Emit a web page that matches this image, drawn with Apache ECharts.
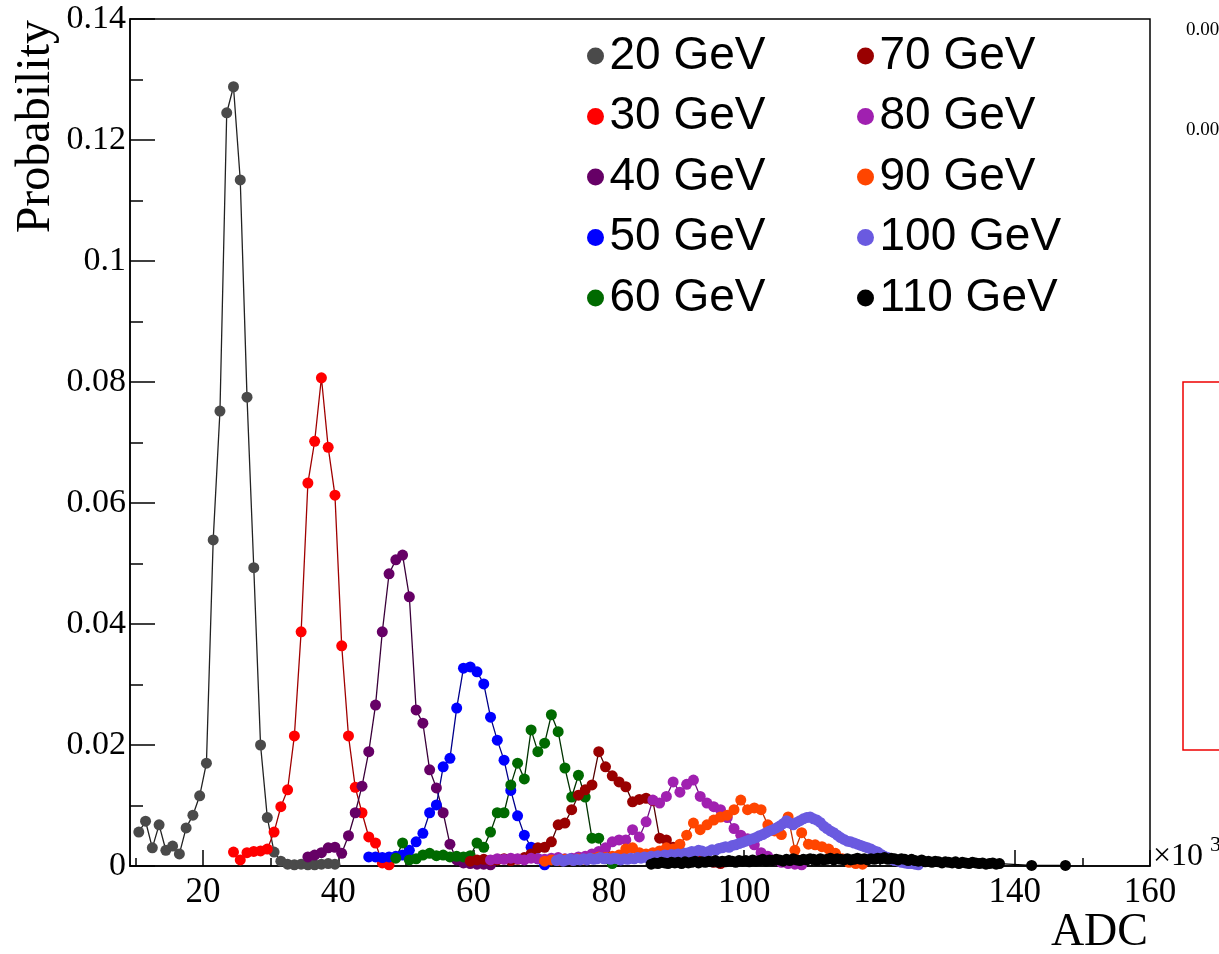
<!DOCTYPE html>
<html>
<head>
<meta charset="utf-8">
<script src="https://cdn.jsdelivr.net/npm/echarts@6/dist/echarts.min.js"></script>
<style>
html,body{margin:0;padding:0;background:#fff}
#chart{width:1219px;height:954px}
</style>
</head>
<body>
<div id="chart"></div>
<script>
// beam energies (legend order)
var energies = ['20 GeV','30 GeV','40 GeV','50 GeV','60 GeV','70 GeV','80 GeV','90 GeV','100 GeV','110 GeV'];

// histogram binning (ADC, x10^3): centre of first bin and bin width
var binStart = [10.5, 24.5, 35.5, 44.5, 48.5, 59.5, 62.5, 70.5, 72.25, 86.25];
var binWidth = [1, 1, 1, 1, 1, 1, 1, 1, 0.5, 0.5];

// probabilities
var p20 = [0.0056,0.0074,0.0030,0.0068,0.0026,0.0033,0.0020,0.0063,0.0084,0.0116,
  0.0170,0.0539,0.0752,0.1245,0.1288,0.1134,0.0775,0.0493,0.0200,0.0080,
  0.0023,0.0008,0.0003,0.0002,0.0003,0.0002,0.0002,0.0003,0.0004,0.0003];
var p30 = [0.0023,0.0010,0.0022,0.0024,0.0025,0.0028,0.0056,0.0098,0.0126,0.0215,
  0.0387,0.0633,0.0702,0.0807,0.0692,0.0613,0.0364,0.0215,0.0130,0.0088,
  0.0048,0.0038,0.0005,0.0002];
var p40 = [0.0015,0.0018,0.0022,0.0030,0.0031,0.0021,0.0050,0.0088,0.0132,0.0189,
  0.0266,0.0387,0.0483,0.0506,0.0514,0.0445,0.0258,0.0236,0.0159,0.0129,
  0.0088,0.0036,0.0010,0.0005,0.0004,0.0003,0.0003,0.0002];
var p50 = [0.0015,0.0015,0.0014,0.0015,0.0016,0.0018,0.0026,0.0040,0.0054,0.0088,
  0.0101,0.0164,0.0178,0.0261,0.0327,0.0329,0.0321,0.0301,0.0246,0.0208,
  0.0175,0.0125,0.0083,0.0051,0.0031,0.0012,0.0002];
var p60 = [0.0013,0.0038,0.0010,0.0012,0.0018,0.0021,0.0017,0.0018,0.0015,0.0016,
  0.0015,0.0017,0.0038,0.0031,0.0056,0.0088,0.0088,0.0134,0.0170,0.0144,
  0.0225,0.0189,0.0203,0.0250,0.0222,0.0162,0.0114,0.0150,0.0114,0.0046,
  0.0046,0.0012,0.0004];
var p70 = [0.0008,0.0010,0.0011,0.0009,0.0010,0.0012,0.0009,0.0011,0.0014,0.0020,
  0.0030,0.0031,0.0040,0.0068,0.0071,0.0093,0.0117,0.0126,0.0134,0.0189,
  0.0164,0.0149,0.0139,0.0131,0.0106,0.0110,0.0112,0.0108,0.0046,0.0043,
  0.0031,0.0025,0.0018,0.0015,0.0012,0.0009,0.0006,0.0004];
var p80 = [0.0010,0.0012,0.0011,0.0013,0.0012,0.0010,0.0013,0.0012,0.0011,0.0013,
  0.0014,0.0012,0.0013,0.0015,
  0.0016,0.0020,0.0024,0.0030,0.0040,0.0043,0.0043,0.0060,0.0048,0.0073,
  0.0109,0.0104,0.0115,0.0139,0.0122,0.0135,0.0142,0.0115,0.0104,0.0098,
  0.0093,0.0080,0.0062,0.0051,0.0045,0.0035,0.0022,0.0016,0.0010,0.0006,
  0.0004,0.0003,0.0002];
var p90 = [0.0008,0.0010,0.0009,0.0011,0.0010,0.0012,0.0011,0.0013,0.0015,0.0014,
  0.0016,0.0018,0.0028,0.0030,0.0022,
  0.0020,0.0022,0.0025,0.0030,0.0028,0.0036,0.0051,0.0071,0.0060,0.0068,
  0.0076,0.0081,0.0084,0.0093,0.0109,0.0093,0.0096,0.0093,0.0068,0.0058,
  0.0052,0.0081,0.0026,0.0055,0.0036,0.0035,0.0032,0.0028,0.0021,0.0012,
  0.0006,0.0004,0.0003];
var p100 = [0.0009,0.0011,0.0008,0.0010,0.0012,0.0009,0.0011,0.0010,0.0012,0.0010,
  0.0013,0.0011,0.0012,0.0014,0.0012,0.0013,
  0.0011,0.0013,0.0012,0.0010,0.0012,0.0011,0.0013,0.0012,0.0014,0.0013,
  0.0015,0.0013,0.0016,0.0015,0.0017,0.0016,0.0018,0.0017,0.0019,0.0018,
  0.0020,0.0019,0.0021,0.0022,0.0024,0.0023,0.0026,0.0025,0.0022,0.0024,
  0.0027,0.0026,0.0029,0.0030,0.0032,0.0031,0.0034,0.0035,0.0037,0.0039,
  0.0041,0.0043,0.0045,0.0047,0.0050,0.0052,0.0055,0.0058,0.0060,0.0063,
  0.0066,0.0070,0.0075,0.0071,0.0068,0.0072,0.0075,0.0078,0.0080,0.0081,
  0.0078,0.0076,0.0072,0.0066,0.0062,0.0058,0.0055,0.0051,0.0047,0.0044,
  0.0041,0.0040,0.0038,0.0036,0.0034,0.0032,0.0030,0.0028,0.0025,0.0023,
  0.0019,0.0016,0.0014,0.0011,0.0009,0.0008,0.0006,0.0005,0.0004,0.0004,
  0.0003,0.0002];
var p110 = [0.0003,0.0005,0.0004,0.0006,0.0005,0.0004,0.0006,0.0005,
  0.0006,0.0004,0.0007,0.0005,0.0006,0.0008,0.0005,0.0007,0.0006,0.0008,
  0.0007,0.0009,0.0006,0.0008,0.0007,0.0009,0.0008,0.0006,0.0009,0.0008,
  0.0009,0.0007,0.0010,0.0008,0.0009,0.0011,0.0008,0.0010,0.0009,0.0011,
  0.0010,0.0008,0.0011,0.0009,0.0012,0.0010,0.0009,0.0011,0.0010,0.0012,
  0.0011,0.0009,0.0012,0.0010,0.0011,0.0013,0.0010,0.0012,0.0011,0.0010,
  0.0012,0.0010,0.0011,0.0013,0.0011,0.0012,0.0010,0.0012,0.0011,0.0013,
  0.0012,0.0014,0.0011,0.0013,0.0012,0.0010,0.0012,0.0011,0.0009,0.0011,
  0.0009,0.0008,0.0010,0.0007,0.0008,0.0006,0.0008,0.0007,0.0005,0.0007,
  0.0006,0.0005,0.0007,0.0004,0.0006,0.0005,0.0004,0.0006,0.0005,0.0004,
  0.0005,0.0003,0.0004,0.0005,0.0003,0.0004];
// two isolated entries far in the 110 GeV tail
var tail110Adc = [142.5, 147.5];
var tail110Prob = [0.0001, 0.0001];

var probs = [p20, p30, p40, p50, p60, p70, p80, p90, p100, p110];

var markerColors = ['#4a4a4a','#ff0000','#660066','#0000ff','#006a00','#990000','#a020b0','#ff4500','#6a5ae0','#000000'];
var lineColors   = ['#222222','#a00000','#3a003a','#00008b','#003300','#550000','#701080','#c03000','#4a3ab0','#000000'];

var xTicks = [20, 40, 60, 80, 100, 120, 140, 160];
var xMinorTicks = [10, 30, 50, 70, 90, 110, 130, 150];

var serif = '"Liberation Serif", "Times New Roman", serif';
var sans = '"Liberation Sans", Arial, Helvetica, sans-serif';

var series = [];
for (var i = 0; i < energies.length; i++) {
  var pts = [];
  for (var j = 0; j < probs[i].length; j++) {
    pts.push([binStart[i] + j * binWidth[i], probs[i][j]]);
  }
  if (i === 9) {
    for (var k = 0; k < tail110Adc.length; k++) pts.push([tail110Adc[k], tail110Prob[k]]);
  }
  series.push({
    name: energies[i],
    type: 'line',
    data: pts,
    symbol: 'circle',
    symbolSize: 11,
    showAllSymbol: true,
    itemStyle: {color: markerColors[i]},
    lineStyle: {color: lineColors[i], width: 1.3},
    emphasis: {disabled: true}
  });
}

var legendText = {fontFamily: sans, fontSize: 46, lineHeight: 46, color: '#000'};

var option = {
  animation: false,
  backgroundColor: '#fff',
  grid: {left: 130, right: 69, top: 19, bottom: 88, show: true, borderColor: '#000', borderWidth: 1.5},
  legend: [{
    data: energies.slice(0, 5),
    orient: 'vertical', left: 587, top: 33, padding: 0,
    icon: 'circle', itemWidth: 18, itemHeight: 17, itemGap: 14.5,
    selectedMode: false, textStyle: legendText
  }, {
    data: energies.slice(5),
    orient: 'vertical', left: 857, top: 33, padding: 0,
    icon: 'circle', itemWidth: 18, itemHeight: 17, itemGap: 14.5,
    selectedMode: false, textStyle: legendText
  }],
  xAxis: [{
    type: 'value', min: 9.2, max: 160,
    axisLine: {lineStyle: {color: '#000', width: 1.5}},
    axisTick: {inside: true, length: 16, customValues: xTicks, lineStyle: {color: '#000', width: 1.5}},
    axisLabel: {customValues: xTicks, fontFamily: serif, fontSize: 35, color: '#000', margin: 9},
    splitLine: {show: false}
  }, {
    type: 'value', min: 9.2, max: 160, position: 'bottom',
    axisLine: {show: false},
    axisTick: {inside: true, length: 8, customValues: xMinorTicks, lineStyle: {color: '#000', width: 1.5}},
    axisLabel: {show: false},
    splitLine: {show: false}
  }],
  yAxis: {
    type: 'value', min: 0, max: 0.14, interval: 0.02,
    axisLine: {show: true, lineStyle: {color: '#000', width: 1.5}},
    axisTick: {inside: true, length: 25, lineStyle: {color: '#000', width: 1.5}},
    minorTick: {show: true, splitNumber: 2, length: 13, lineStyle: {color: '#000', width: 1.5}},
    axisLabel: {fontFamily: serif, fontSize: 34, color: '#000', margin: 4},
    splitLine: {show: false}
  },
  graphic: [
    {type: 'text', x: 36, y: 20, rotation: Math.PI / 2,
      style: {text: 'Probability', font: '48px ' + serif, fill: '#000', align: 'right', verticalAlign: 'middle'}},
    {type: 'text', x: 1148, y: 933,
      style: {text: 'ADC', font: '46px ' + serif, fill: '#000', align: 'right', verticalAlign: 'middle'}},
    {type: 'text', x: 1153, y: 857,
      style: {text: '\u00d710', font: '32px ' + serif, fill: '#000', align: 'left', verticalAlign: 'middle'}},
    {type: 'text', x: 1210, y: 845,
      style: {text: '3', font: '22px ' + serif, fill: '#000', align: 'left', verticalAlign: 'middle'}},
    {type: 'text', x: 1186, y: 30,
      style: {text: '0.00', font: '19px ' + serif, fill: '#000', align: 'left', verticalAlign: 'middle'}},
    {type: 'text', x: 1186, y: 130,
      style: {text: '0.00', font: '19px ' + serif, fill: '#000', align: 'left', verticalAlign: 'middle'}},
    {type: 'rect', shape: {x: 1183, y: 382, width: 60, height: 368},
      style: {fill: 'none', stroke: '#ee0000', lineWidth: 1.5}}
  ],
  series: series
};

var myChart = echarts.init(document.getElementById('chart'));
myChart.setOption(option);
</script>
</body>
</html>
